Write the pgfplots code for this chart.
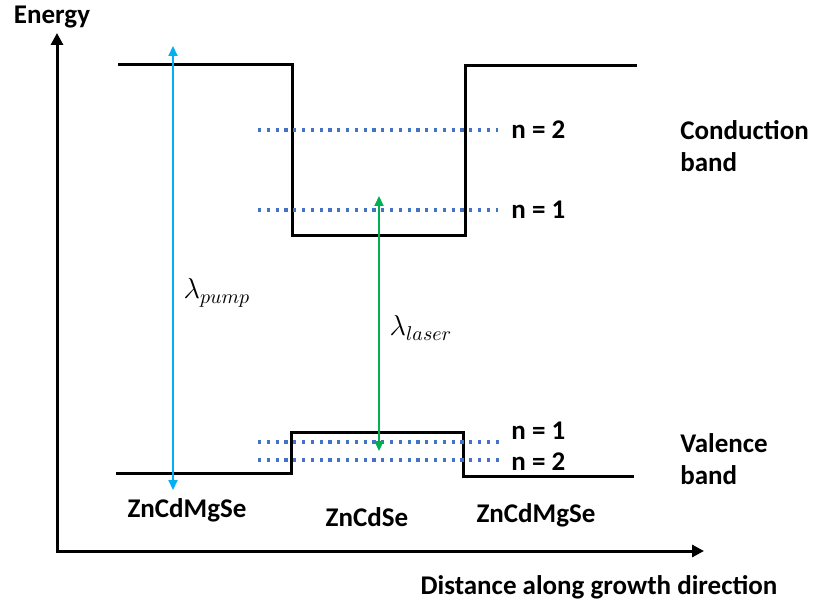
\documentclass[border=0pt]{standalone}
\usepackage{fontspec}
\setmainfont{Carlito}
\usepackage{pgfplots}
\pgfplotsset{compat=1.18}
\usetikzlibrary{arrows.meta}

\definecolor{pumpblue}{RGB}{0,176,240}
\definecolor{lasergreen}{RGB}{0,176,80}
\definecolor{levelblue}{RGB}{68,114,196}

\tikzset{
  lab/.style={font=\fontsize{13.5}{16}\selectfont\bfseries, inner sep=0pt},
  sym/.style={font=\fontsize{14.5}{17}\selectfont, inner sep=0pt},
}

\begin{document}
\begin{tikzpicture}
\begin{axis}[
  width=407pt, height=304.5pt, scale only axis,
  xmin=0, xmax=814, ymin=0, ymax=609, y dir=reverse,
  axis lines=none, ticks=none, clip=false,
  band/.style={black, line width=1.5pt, line join=miter, no marks},
  level/.style={levelblue, line width=1.6pt, dash pattern=on 1.6pt off 2.8pt, no marks},
]
% frame of the drawing area
\path (axis cs:0,0) rectangle (axis cs:814,609);

% energy and distance axes
\addplot[black, line width=1.5pt, no marks, -{Triangle[length=6pt,width=6pt]}]
  coordinates {(57,552) (57,33)};
\addplot[black, line width=1.5pt, no marks, -{Triangle[length=6pt,width=6pt]}]
  coordinates {(56,551) (704,551)};

% conduction band edge
\addplot[band] coordinates {(118,65) (292,65) (292,236) (465,236) (465,66) (637,66)};
% valence band edge
\addplot[band] coordinates {(116,473) (291,473) (291,432) (463,432) (463,476) (634,476)};

% confined levels
\addplot[level] coordinates {(258,130) (498,130)};
\addplot[level] coordinates {(258,210) (498,210)};
\addplot[level] coordinates {(258,442) (500,442)};
\addplot[level] coordinates {(258,460) (500,460)};

% pump and laser transitions
\addplot[pumpblue, line width=1.1pt, no marks, {Triangle[length=5pt,width=4.5pt]}-{Triangle[length=5pt,width=4.5pt]}]
  coordinates {(173,490) (173,46)};
\addplot[lasergreen, line width=1.1pt, no marks, {Triangle[length=5pt,width=4.5pt]}-{Triangle[length=5pt,width=4.5pt]}]
  coordinates {(379,196) (379,451)};

% labels
\node[lab] at (axis cs:52,17) {Energy};
\node[lab] at (axis cs:599,587) {Distance along growth direction};
\node[lab, anchor=west, align=left] at (axis cs:680,146) {Conduction\\band};
\node[lab, anchor=west, align=left] at (axis cs:680,459) {Valence\\band};
\node[lab, anchor=west] at (axis cs:511,130) {n = 2};
\node[lab, anchor=west] at (axis cs:511,210) {n = 1};
\node[lab, anchor=west] at (axis cs:511,431) {n = 1};
\node[lab, anchor=west] at (axis cs:511,462) {n = 2};
\node[lab] at (axis cs:187,510) {ZnCdMgSe};
\node[lab] at (axis cs:367,517) {ZnCdSe};
\node[lab] at (axis cs:536,515) {ZnCdMgSe};
\node[sym] at (axis cs:217,293) {$\lambda_{pump}$};
\node[sym] at (axis cs:421,328) {$\lambda_{laser}$};
\end{axis}
\end{tikzpicture}
\end{document}
